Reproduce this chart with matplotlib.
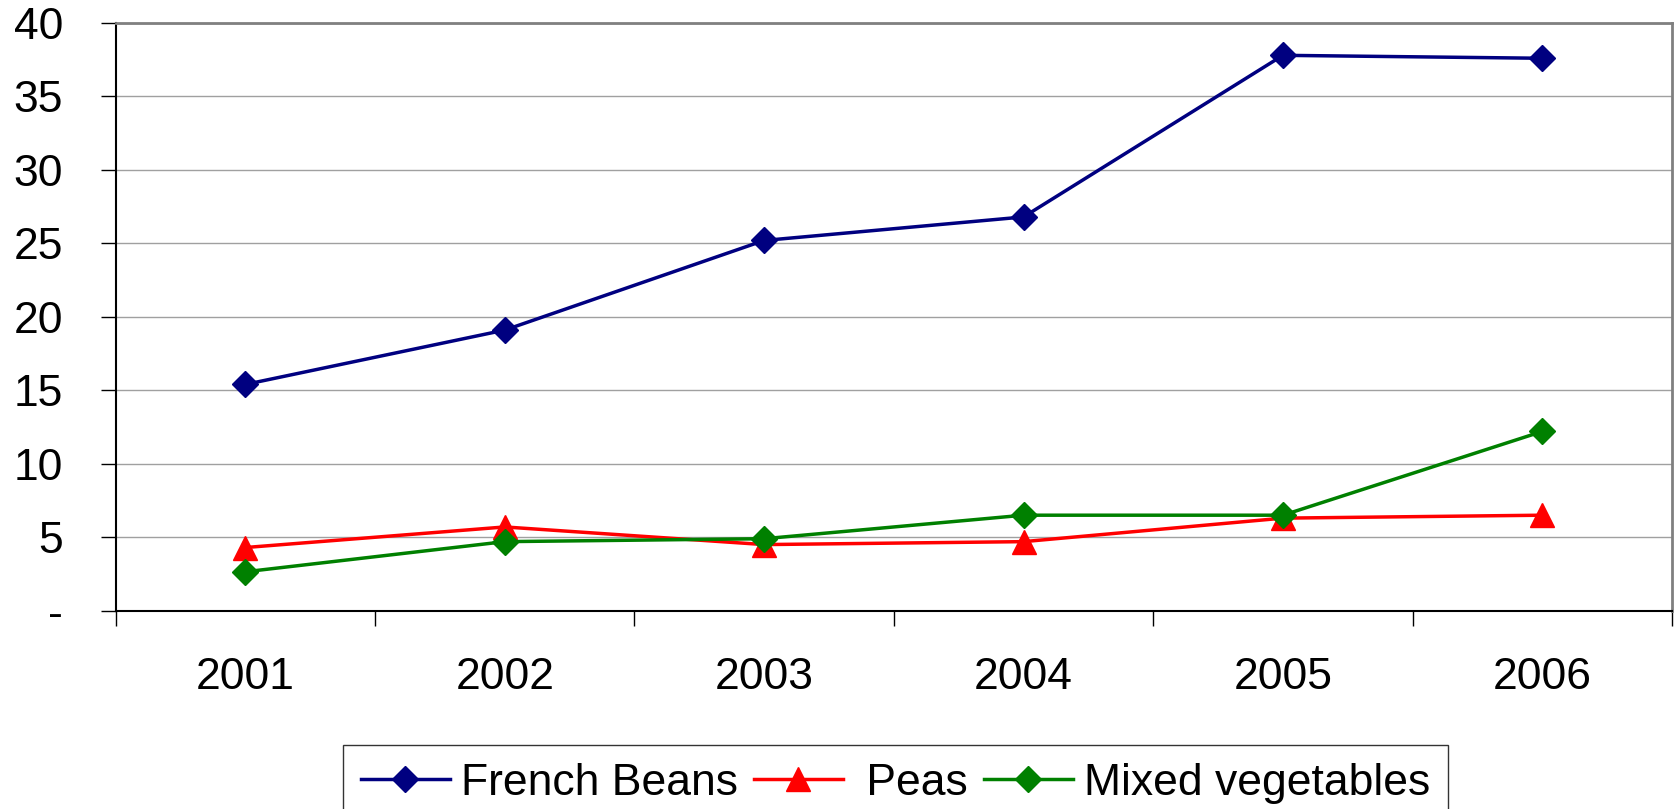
import matplotlib.pyplot as plt
import numpy as np
from matplotlib.ticker import FixedLocator, FuncFormatter

plt.rcParams['font.family'] = ['Liberation Sans', 'DejaVu Sans']

# --- data ---
years = ["2001", "2002", "2003", "2004", "2005", "2006"]
french_beans = [15.4, 19.1, 25.2, 26.8, 37.8, 37.6]
peas = [4.3, 5.7, 4.5, 4.7, 6.3, 6.5]
mixed_veg = [2.65, 4.7, 4.9, 6.5, 6.5, 12.2]

# --- figure ---
W, H, DPI = 1677, 809, 100
fig = plt.figure(figsize=(W / DPI, H / DPI), dpi=DPI)
ax = fig.add_axes([115.7 / W, 1 - 610.7 / H, (1672 - 115.7) / W, (610.7 - 23) / H])

x = np.arange(len(years)) + 0.5
ax.plot(x, french_beans, color="#000080", lw=2.5, marker="D", ms=13,
        label="French Beans", zorder=4)
ax.plot(x, peas, color="#FF0000", lw=2.5, marker="^", ms=17,
        label=" Peas", zorder=3)
ax.plot(x, mixed_veg, color="#008000", lw=2.5, marker="D", ms=13,
        label="Mixed vegetables", zorder=5)

ax.set_xlim(0, len(years))
ax.set_ylim(0, 40)

# y axis: ticks every 5, zero shown as a dash
ax.set_yticks(np.arange(0, 41, 5))
ax.yaxis.set_major_formatter(FuncFormatter(lambda v, p: "-" if v == 0 else f"{int(v)}"))
ax.tick_params(axis="y", length=11, width=1, color="#000000", pad=27, labelsize=32)
ax.yaxis.grid(True, color="#a0a0a0", lw=1)
ax.set_axisbelow(True)

# x axis: tick marks between categories, labels centred on categories
ax.xaxis.set_major_locator(FixedLocator(np.arange(0, len(years) + 1)))
ax.xaxis.set_minor_locator(FixedLocator(x))
ax.set_xticklabels([], minor=False)
ax.set_xticklabels(years, minor=True)
ax.tick_params(axis="x", which="major", length=11, width=1, color="#000000")
ax.tick_params(axis="x", which="minor", length=0, pad=33, labelsize=32)

for side in ("top", "right"):
    ax.spines[side].set_color("#808080")
    ax.spines[side].set_linewidth(2)
ax.spines["left"].set_color("#000000")
ax.spines["left"].set_linewidth(1.5)
ax.spines["bottom"].set_color("#000000")
ax.spines["bottom"].set_linewidth(1.5)

leg = fig.legend(loc="upper center", bbox_to_anchor=(895.5 / W, 1 - 745 / H),
                 ncol=3, fontsize=32, frameon=True, fancybox=False,
                 handlelength=2.0, handletextpad=0.25, columnspacing=0.36,
                 borderpad=0.4, borderaxespad=0)
leg.get_frame().set_edgecolor("#000000")
leg.get_frame().set_linewidth(1)

fig.savefig("out.png", dpi=DPI)
